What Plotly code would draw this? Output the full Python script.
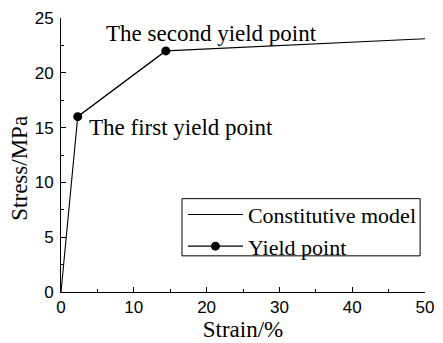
import plotly.graph_objects as go

# Constitutive model (strain %, stress MPa)
model_strain = [0.0, 2.3, 14.4, 50.0]
model_stress = [0.0, 16.0, 22.0, 23.1]

# Yield points
yield_strain = [2.3, 14.4]
yield_stress = [16.0, 22.0]
yield_labels = ["The first yield point", "The second yield point"]

serif = "Liberation Serif, Times New Roman, serif"
sans = "Liberation Sans, Arial, sans-serif"

fig = go.Figure()
fig.add_trace(go.Scatter(
    x=model_strain, y=model_stress, mode="lines",
    line=dict(color="black", width=1.1),
    name="Constitutive model",
))
fig.add_trace(go.Scatter(
    x=yield_strain, y=yield_stress, mode="lines+markers",
    line=dict(color="black", width=1.1),
    marker=dict(color="black", size=9),
    name="Yield point",
))

# Point labels
fig.add_annotation(x=yield_strain[0], y=yield_stress[0], text=yield_labels[0],
                   showarrow=False, xanchor="left", yanchor="middle",
                   xshift=9, yshift=-11, font=dict(family=serif, size=23, color="black"))
fig.add_annotation(x=yield_strain[1], y=yield_stress[1], text=yield_labels[1],
                   showarrow=False, xanchor="left", yanchor="middle",
                   xshift=-62, yshift=17, font=dict(family=serif, size=23, color="black"))

# Vertical axis title
fig.add_annotation(xref="paper", yref="paper", x=0, y=0.45, xshift=-41,
                   text="Stress/MPa", textangle=-90, showarrow=False,
                   xanchor="center", yanchor="middle",
                   font=dict(family=serif, size=23, color="black"))

# Legend frame
fig.add_shape(type="rect", xref="paper", yref="paper",
              x0=0.3324, x1=0.9866, y0=0.132, y1=0.3407,
              line=dict(color="black", width=1), fillcolor="white", layer="below")

axis_common = dict(
    showgrid=False, zeroline=False, showline=True, linecolor="black", linewidth=1,
    ticks="inside", ticklen=5, tickwidth=1, tickcolor="black",
    tickfont=dict(family=sans, size=17, color="black"),
    ticklabeloverflow="allow",
)
fig.update_xaxes(range=[0, 50], dtick=10, title_text="Strain/%", title_standoff=0,
                 title_font=dict(family=serif, size=23, color="black"),
                 minor=dict(dtick=5, ticks="inside", ticklen=3, tickcolor="black"),
                 **axis_common)
fig.update_yaxes(range=[0, 25], dtick=5, ticklabelstandoff=3,
                 minor=dict(dtick=2.5, ticks="inside", ticklen=3, tickcolor="black"),
                 **axis_common)

fig.update_layout(
    width=443, height=343,
    margin=dict(l=61, r=9, t=15, b=49),
    plot_bgcolor="white", paper_bgcolor="white",
    showlegend=True,
    legend=dict(x=0.335, y=0.3586, xanchor="left", yanchor="top",
                borderwidth=0, bgcolor="rgba(0,0,0,0)",
                font=dict(family=serif, size=22, color="black"),
                tracegroupgap=0, itemwidth=55),
)

fig.write_html("out.html")
